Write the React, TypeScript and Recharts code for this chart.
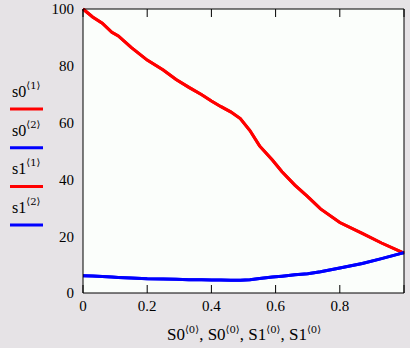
import { LineChart, Line, XAxis, YAxis, CartesianGrid } from 'recharts';

// column 0 (shared x values)
const xValues = [
  0, 0.03, 0.06, 0.09, 0.11, 0.15, 0.2, 0.25, 0.29, 0.33, 0.37, 0.4, 0.43,
  0.46, 0.49, 0.52, 0.55, 0.59, 0.62, 0.66, 0.7, 0.74, 0.8, 0.87, 0.93, 1.0,
];
const s0Col1 = [
  100, 97.2, 95, 91.8, 90.5, 86.5, 82, 78.5, 75.2, 72.4, 69.8, 67.6, 65.6,
  63.8, 61.4, 57.2, 51.8, 46.8, 42.7, 38, 33.9, 29.6, 24.8, 21, 17.6, 14,
];
const s0Col2 = [
  6.1, 6.0, 5.8, 5.6, 5.5, 5.3, 5.0, 4.9, 4.8, 4.7, 4.7, 4.6, 4.6, 4.5, 4.5,
  4.7, 5.1, 5.6, 5.9, 6.4, 6.8, 7.5, 8.8, 10.4, 12.1, 14.2,
];
const s1Col1 = [
  100, 97.2, 95, 91.8, 90.5, 86.5, 82, 78.5, 75.2, 72.4, 69.8, 67.6, 65.6,
  63.8, 61.4, 57.2, 51.8, 46.8, 42.7, 38, 33.9, 29.6, 24.8, 21, 17.6, 14,
];
const s1Col2 = [
  6.1, 6.0, 5.8, 5.6, 5.5, 5.3, 5.0, 4.9, 4.8, 4.7, 4.7, 4.6, 4.6, 4.5, 4.5,
  4.7, 5.1, 5.6, 5.9, 6.4, 6.8, 7.5, 8.8, 10.4, 12.1, 14.2,
];

const xTickLabels = [0, 0.2, 0.4, 0.6, 0.8];
const xTickMarks = [0, 0.2, 0.4, 0.6, 0.8, 1];
const yTicks = [0, 20, 40, 60, 80, 100];

const legendItems = [
  { name: 's0', sup: '⟨1⟩', color: '#ff0000' },
  { name: 's0', sup: '⟨2⟩', color: '#0000ff' },
  { name: 's1', sup: '⟨1⟩', color: '#ff0000' },
  { name: 's1', sup: '⟨2⟩', color: '#0000ff' },
];
const xTitleParts = ['S0', 'S0', 'S1', 'S1'];

const data = xValues.map((x, i) => ({
  x,
  s0a: s0Col1[i],
  s0b: s0Col2[i],
  s1a: s1Col1[i],
  s1b: s1Col2[i],
}));

const FONT = "'Liberation Serif', 'Times New Roman', 'DejaVu Serif', serif";
const SUP_FONT = "'DejaVu Serif', serif";
const serif = { fontFamily: FONT };
const tickStyle = { fontSize: 15, fill: '#000', style: serif };

// draws nothing, keeps the tick lines of the inner axes
const NoLabel = () => <g />;

export default function App() {
  return (
    <div
      style={{
        position: 'absolute',
        left: 0,
        top: 0,
        width: 410,
        height: 348,
        background: '#e6e3e6',
        fontFamily: FONT,
      }}
    >
      <LineChart
        width={410}
        height={348}
        data={data}
        margin={{ top: 9, right: 6, bottom: 0, left: 0 }}
        style={serif}
      >
        <CartesianGrid horizontal={false} vertical={false} fill="#fbfefb" />
        <XAxis
          dataKey="x"
          type="number"
          domain={[0, 1]}
          ticks={xTickLabels}
          height={55}
          tickSize={0}
          tickMargin={7}
          tick={tickStyle}
          axisLine={{ stroke: '#000' }}
          tickLine={false}
        />
        <XAxis
          xAxisId="inner-bottom"
          dataKey="x"
          type="number"
          domain={[0, 1]}
          ticks={xTickMarks}
          orientation="bottom"
          mirror
          height={8}
          tick={NoLabel}
          tickSize={8}
          axisLine={false}
          tickLine={{ stroke: '#000' }}
        />
        <XAxis
          xAxisId="top"
          dataKey="x"
          type="number"
          domain={[0, 1]}
          ticks={xTickMarks}
          orientation="top"
          mirror
          height={8}
          tick={NoLabel}
          tickSize={8}
          axisLine={{ stroke: '#000' }}
          tickLine={{ stroke: '#000' }}
        />
        <YAxis
          type="number"
          domain={[0, 100]}
          ticks={yTicks}
          width={83}
          tickSize={0}
          tickMargin={9}
          tick={tickStyle}
          axisLine={{ stroke: '#000' }}
          tickLine={false}
        />
        <YAxis
          yAxisId="inner-left"
          type="number"
          domain={[0, 100]}
          ticks={yTicks}
          orientation="left"
          mirror
          width={8}
          tick={NoLabel}
          tickSize={8}
          axisLine={false}
          tickLine={{ stroke: '#000' }}
        />
        <YAxis
          yAxisId="right"
          type="number"
          domain={[0, 100]}
          ticks={yTicks}
          orientation="right"
          mirror
          width={8}
          tick={NoLabel}
          tickSize={8}
          axisLine={{ stroke: '#000' }}
          tickLine={{ stroke: '#000' }}
        />
        <Line dataKey="s0a" stroke="#ff0000" strokeWidth={3} dot={false} isAnimationActive={false} />
        <Line dataKey="s1a" stroke="#ff0000" strokeWidth={3} dot={false} isAnimationActive={false} />
        <Line dataKey="s0b" stroke="#0000ff" strokeWidth={3} dot={false} isAnimationActive={false} />
        <Line dataKey="s1b" stroke="#0000ff" strokeWidth={3} dot={false} isAnimationActive={false} />
      </LineChart>
      <svg
        width={410}
        height={348}
        style={{ position: 'absolute', left: 0, top: 0, pointerEvents: 'none' }}
      >
        {legendItems.map((item, i) => {
          const lineY = 109 + i * 38.7;
          return (
            <g key={i}>
              <text x={12} y={lineY - 12} style={serif} fontSize={16} fill="#000">
                {item.name}
                <tspan dy={-8} fontSize={10} style={{ fontFamily: SUP_FONT }}>
                  {item.sup}
                </tspan>
              </text>
              <line x1={10} x2={43} y1={lineY} y2={lineY} stroke={item.color} strokeWidth={3} />
            </g>
          );
        })}
        <text x={167} y={340} style={serif} fontSize={17} fill="#000">
          {xTitleParts.map((p, i) => (
            <tspan key={i}>
              <tspan dy={i === 0 ? 0 : 7} fontSize={17}>
                {(i === 0 ? '' : ', ') + p}
              </tspan>
              <tspan dy={-7} fontSize={10} style={{ fontFamily: SUP_FONT }}>
                ⟨0⟩
              </tspan>
            </tspan>
          ))}
        </text>
      </svg>
    </div>
  );
}
